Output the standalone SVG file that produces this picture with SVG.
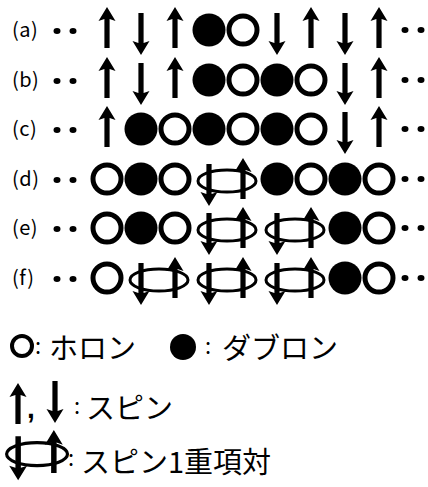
<svg xmlns="http://www.w3.org/2000/svg" width="428" height="487" viewBox="0 0 428 487">
<style>
.lbl{font-family:"Noto Sans CJK JP","Noto Sans",sans-serif;font-size:20px;fill:#000;letter-spacing:0.5px}
.leg{font-family:"Noto Sans CJK JP","Noto Sans",sans-serif;font-size:29px;fill:#000}
.col{font-family:"Noto Sans CJK JP","Noto Sans",sans-serif;font-size:22px;fill:#000}
.hole{fill:none;stroke:#000;stroke-width:5}
.dbl{fill:#000}
.ring{fill:none;stroke:#000;stroke-width:3}
.dot{fill:#000}
</style>
<defs>
<path id="up" d="M0,-23 L8.5,-9 L2.6,-11 L2.6,18 L-2.6,18 L-2.6,-11 L-8.5,-9 Z" fill="#000"/>
<path id="dn" d="M0,25 L8.5,11 L2.6,13 L2.6,-17 L-2.6,-17 L-2.6,13 L-8.5,11 Z" fill="#000"/>
<circle id="ho" r="14" class="hole"/>
<circle id="db" r="16.5" class="dbl"/>
<g id="sg">
<ellipse cx="1" cy="2" rx="29" ry="11" class="ring"/>
<use href="#dn" x="-17" y="2"/>
<use href="#up" x="17" y="2"/>
</g>
<g id="ld">
<ellipse cx="57" cy="1" rx="3.5" ry="3" class="dot"/>
<ellipse cx="73" cy="1" rx="3.5" ry="3" class="dot"/>
</g>
<g id="rd">
<ellipse cx="405" cy="0" rx="3.5" ry="3" class="dot"/>
<ellipse cx="421" cy="0" rx="3.5" ry="3" class="dot"/>
</g>
</defs>

<g id="row-a">
<text class="lbl" x="12" y="37">(a)</text>
<use href="#ld" y="30"/>
<use href="#up" x="107" y="30"/>
<use href="#dn" x="141" y="30"/>
<use href="#up" x="175" y="30"/>
<use href="#db" x="209" y="30"/>
<use href="#ho" x="243" y="30"/>
<use href="#dn" x="277" y="30"/>
<use href="#up" x="311" y="30"/>
<use href="#dn" x="345" y="30"/>
<use href="#up" x="379" y="30"/>
<use href="#rd" y="30"/>
</g>

<g id="row-b">
<text class="lbl" x="12" y="87">(b)</text>
<use href="#ld" y="80"/>
<use href="#up" x="107" y="80"/>
<use href="#dn" x="141" y="80"/>
<use href="#up" x="175" y="80"/>
<use href="#db" x="209" y="80"/>
<use href="#ho" x="243" y="80"/>
<use href="#db" x="277" y="80"/>
<use href="#ho" x="311" y="80"/>
<use href="#dn" x="345" y="80"/>
<use href="#up" x="379" y="80"/>
<use href="#rd" y="80"/>
</g>

<g id="row-c">
<text class="lbl" x="12" y="136">(c)</text>
<use href="#ld" y="129"/>
<use href="#up" x="107" y="129"/>
<use href="#db" x="141" y="129"/>
<use href="#ho" x="175" y="129"/>
<use href="#db" x="209" y="129"/>
<use href="#ho" x="243" y="129"/>
<use href="#db" x="277" y="129"/>
<use href="#ho" x="311" y="129"/>
<use href="#dn" x="345" y="129"/>
<use href="#up" x="379" y="129"/>
<use href="#rd" y="129"/>
</g>

<g id="row-d">
<text class="lbl" x="12" y="186">(d)</text>
<use href="#ld" y="179"/>
<use href="#ho" x="107" y="179"/>
<use href="#db" x="141" y="179"/>
<use href="#ho" x="175" y="179"/>
<use href="#sg" x="226" y="179"/>
<use href="#db" x="277" y="179"/>
<use href="#ho" x="311" y="179"/>
<use href="#db" x="345" y="179"/>
<use href="#ho" x="379" y="179"/>
<use href="#rd" y="179"/>
</g>

<g id="row-e">
<text class="lbl" x="12" y="235">(e)</text>
<use href="#ld" y="228"/>
<use href="#ho" x="107" y="228"/>
<use href="#db" x="141" y="228"/>
<use href="#ho" x="175" y="228"/>
<use href="#sg" x="226" y="228"/>
<use href="#sg" x="294" y="228"/>
<use href="#db" x="345" y="228"/>
<use href="#ho" x="379" y="228"/>
<use href="#rd" y="228"/>
</g>

<g id="row-f">
<text class="lbl" x="12" y="285">(f)</text>
<use href="#ld" y="278"/>
<use href="#ho" x="107" y="278"/>
<use href="#sg" x="158" y="278"/>
<use href="#sg" x="226" y="278"/>
<use href="#sg" x="294" y="278"/>
<use href="#db" x="345" y="278"/>
<use href="#ho" x="379" y="278"/>
<use href="#rd" y="278"/>
</g>

<g id="legend-holon-doublon">
<circle cx="22" cy="346" r="10" fill="none" stroke="#000" stroke-width="4"/>
<text class="col" x="35" y="354">:</text>
<text class="leg" x="49" y="359">ホロン</text>
<circle cx="183" cy="347" r="13" fill="#000"/>
<text class="col" x="205" y="354">:</text>
<text class="leg" x="222" y="359">ダブロン</text>
</g>

<g id="legend-spin">
<use href="#up" x="18" y="406"/>
<text x="27" y="418" font-family="Liberation Sans, sans-serif" font-size="28" font-weight="bold">,</text>
<use href="#dn" x="55" y="398"/>
<text class="col" x="74" y="414">:</text>
<text class="leg" x="86" y="419">スピン</text>
</g>

<g id="legend-singlet">
<use href="#sg" transform="translate(36 452) scale(1.05)"/>
<text class="col" x="68" y="466">:</text>
<text class="leg" x="81" y="473">スピン1重項対</text>
</g>
</svg>
